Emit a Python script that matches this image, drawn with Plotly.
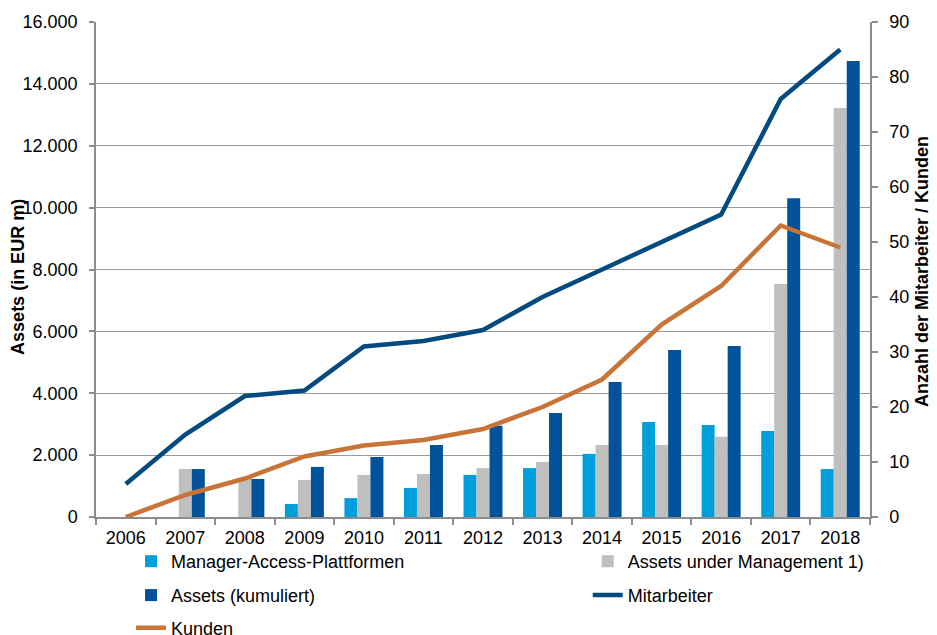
import plotly.graph_objects as go

years = [str(y) for y in range(2006, 2019)]
manager_access = [None, None, None, 420, 610, 940, 1360, 1580, 2040, 3070, 2970, 2780, 1550]
aum = [None, 1550, 1250, 1200, 1360, 1390, 1580, 1780, 2330, 2330, 2590, 7530, 13220]
assets_kum = [None, 1550, 1230, 1620, 1940, 2330, 2950, 3360, 4360, 5400, 5530, 10300, 14740]
mitarbeiter = [6, 15, 22, 23, 31, 32, 34, 40, 45, 50, 55, 76, 85]
kunden = [0, 4, 7, 11, 13, 14, 16, 20, 25, 35, 42, 53, 49]

C_LIGHT = '#009FDA'
C_GRAY = '#BFBFBF'
C_DARK = '#00539B'
C_NAVY = '#034A7E'
C_ORANGE = '#C87438'
AX = '#8C8C8C'
FONT = 'Liberation Sans, Arial'

fig = go.Figure()
fig.add_trace(go.Bar(x=years, y=manager_access, name='Manager-Access-Plattformen',
                     marker=dict(color=C_LIGHT, line=dict(width=0)), legend='legend'))
fig.add_trace(go.Bar(x=years, y=aum, name='Assets under Management 1)',
                     marker=dict(color=C_GRAY, line=dict(width=0)), legend='legend2'))
fig.add_trace(go.Bar(x=years, y=assets_kum, name='Assets (kumuliert)',
                     marker=dict(color=C_DARK, line=dict(width=0)), legend='legend3'))
fig.add_trace(go.Scatter(x=years, y=mitarbeiter, name='Mitarbeiter', yaxis='y2', mode='lines',
                         line=dict(color=C_NAVY, width=4.5), legend='legend4'))
fig.add_trace(go.Scatter(x=years, y=kunden, name='Kunden', yaxis='y2', mode='lines',
                         line=dict(color=C_ORANGE, width=4.5), legend='legend5'))

leg_common = dict(orientation='h', xanchor='left', yanchor='top', bgcolor='rgba(0,0,0,0)',
                  font=dict(size=18, family=FONT, color='black'),
                  itemclick=False, itemdoubleclick=False)

COL1, COL2 = 0.0453, 0.6353
ROW1, ROW2, ROW3 = -0.0525, -0.121, -0.187

fig.update_layout(
    width=929, height=627,
    margin=dict(l=88, r=67, t=14, b=118, autoexpand=False),
    plot_bgcolor='white', paper_bgcolor='white',
    showlegend=True,
    barmode='group', bargap=0.345, bargroupgap=0,
    separators=',.',
    font=dict(family=FONT, color='black'),
    xaxis=dict(type='category', tickson='boundaries', ticks='outside', ticklen=6,
               tickcolor=AX, tickwidth=1.5, showline=True, linecolor=AX, linewidth=1.5,
               showgrid=False, tickfont=dict(size=18), ticklabelstandoff=4),
    yaxis=dict(range=[0, 16000], dtick=2000, tickformat=',d', showgrid=True,
               gridcolor='#9A9A9A', gridwidth=1.4, showline=True, linecolor=AX, linewidth=1.5,
               ticks='outside', ticklen=5, tickcolor=AX, tickwidth=1.5, zeroline=False,
               tickfont=dict(size=18), ticklabelstandoff=8),
    yaxis2=dict(overlaying='y', side='right', range=[0, 90], dtick=10, showgrid=False,
                showline=True, linecolor=AX, linewidth=1.5, ticks='outside', ticklen=6,
                tickcolor=AX, tickwidth=1.5, zeroline=False, tickfont=dict(size=18),
                ticklabelstandoff=8),
    legend=dict(x=COL1, y=ROW1, **leg_common),
    legend2=dict(x=COL2, y=ROW1, **leg_common),
    legend3=dict(x=COL1, y=ROW2, **leg_common),
    legend4=dict(x=COL2, y=ROW2, **leg_common),
    legend5=dict(x=COL1, y=ROW3, **leg_common),
    annotations=[
        dict(text='<b>Assets (in EUR m)</b>', xref='paper', yref='paper', x=-0.1008, y=0.485,
             xanchor='center', yanchor='middle', textangle=-90, showarrow=False,
             font=dict(size=18, family=FONT, color='black')),
        dict(text='<b>Anzahl der Mitarbeiter / Kunden</b>', xref='paper', yref='paper', x=1.068, y=0.496,
             xanchor='center', yanchor='middle', textangle=-90, showarrow=False,
             font=dict(size=18, family=FONT, color='black')),
    ],
)

fig.write_html('out.html')
